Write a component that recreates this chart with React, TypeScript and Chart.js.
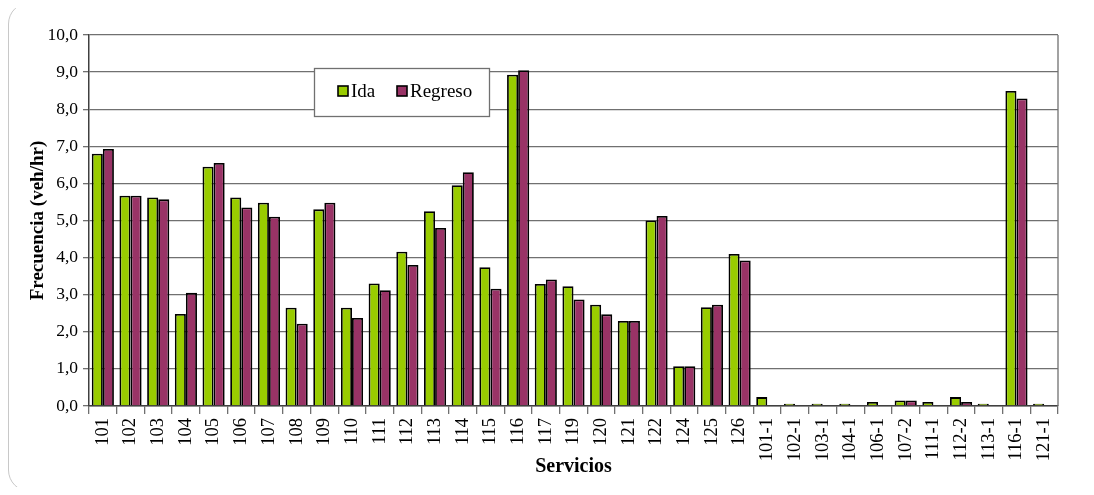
import React, { useEffect, useRef } from "react";
import { Chart, registerables } from "chart.js";

Chart.register(...registerables);

const categories = [
  "101", "102", "103", "104", "105", "106", "107", "108", "109", "110",
  "111", "112", "113", "114", "115", "116", "117", "119", "120", "121",
  "122", "124", "125", "126", "101-1", "102-1", "103-1", "104-1", "106-1",
  "107-2", "111-1", "112-2", "113-1", "116-1", "121-1",
];

const idaValues = [
  6.8, 5.67, 5.62, 2.48, 6.45, 5.62, 5.48, 2.65, 5.3, 2.65,
  3.3, 4.16, 5.25, 5.95, 3.74, 8.93, 3.29, 3.23, 2.73, 2.29,
  5.0, 1.07, 2.66, 4.1, 0.24, 0.06, 0.06, 0.06, 0.11,
  0.15, 0.11, 0.24, 0.06, 8.49, 0.06,
];

const regresoValues = [
  6.93, 5.67, 5.57, 3.05, 6.55, 5.35, 5.1, 2.22, 5.48, 2.37,
  3.12, 3.8, 4.8, 6.3, 3.16, 9.05, 3.41, 2.87, 2.47, 2.29,
  5.12, 1.07, 2.73, 3.92, 0, 0, 0, 0, 0,
  0.15, 0, 0.11, 0, 8.29, 0,
];

const yTicks = [0, 1, 2, 3, 4, 5, 6, 7, 8, 9, 10];

const SERIF = "'Liberation Serif', 'Times New Roman', serif";

const legendPlugin = {
  id: "boxLegend",
  afterDraw(chart: any) {
    const ctx = chart.ctx;
    const x = 314.5, y = 68.5, w = 175, h = 48;
    ctx.save();
    ctx.fillStyle = "#ffffff";
    ctx.fillRect(x, y, w, h);
    ctx.strokeStyle = "#707070";
    ctx.lineWidth = 1.3;
    ctx.strokeRect(x, y, w, h);
    ctx.font = `19px ${SERIF}`;
    ctx.textBaseline = "middle";
    const items = [
      { label: chart.data.datasets[0].label, color: chart.data.datasets[0].backgroundColor, sx: 338 },
      { label: chart.data.datasets[1].label, color: chart.data.datasets[1].backgroundColor, sx: 397 },
    ];
    items.forEach((it) => {
      ctx.fillStyle = it.color;
      ctx.fillRect(it.sx, 86, 10, 10);
      ctx.strokeStyle = "#000";
      ctx.lineWidth = 1.6;
      ctx.strokeRect(it.sx, 86, 10, 10);
      ctx.fillStyle = "#000";
      ctx.textAlign = "left";
      ctx.fillText(it.label, it.sx + 13, 92);
    });
    ctx.restore();
  },
};

const borderPlugin = {
  id: "plotBorder",
  afterDatasetsDraw(chart: any) {
    const { ctx, chartArea } = chart;
    ctx.save();
    ctx.strokeStyle = "#707070";
    ctx.lineWidth = 1.3;
    ctx.beginPath();
    ctx.moveTo(chartArea.right, chartArea.top);
    ctx.lineTo(chartArea.right, chartArea.bottom);
    ctx.stroke();
    ctx.restore();
  },
};

export default function App() {
  const ref = useRef<HTMLCanvasElement | null>(null);

  useEffect(() => {
    if (!ref.current) return;
    const chart = new Chart(ref.current, {
      type: "bar",
      data: {
        labels: categories,
        datasets: [
          {
            label: "Ida",
            data: idaValues,
            backgroundColor: "#99CC00",
            borderColor: "#000000",
            borderWidth: 1.8,
            barPercentage: 1,
            categoryPercentage: 0.8,
          },
          {
            label: "Regreso",
            data: regresoValues,
            backgroundColor: "#993366",
            borderColor: "#000000",
            borderWidth: 1.8,
            barPercentage: 1,
            categoryPercentage: 0.8,
          },
        ],
      },
      options: {
        animation: false,
        responsive: false,
        maintainAspectRatio: false,
        layout: { padding: { left: 23, right: 36, top: 35, bottom: 13 } },
        plugins: {
          legend: { display: false },
          tooltip: { enabled: false },
        },
        scales: {
          x: {
            grid: {
              display: true,
              drawOnChartArea: false,
              drawTicks: true,
              tickLength: 8,
              color: "#707070",
              lineWidth: 1.3,
              offset: true,
            },
            border: { display: true, color: "#404040", width: 1.5 },
            ticks: {
              autoSkip: false,
              minRotation: 90,
              maxRotation: 90,
              color: "#000",
              padding: 4,
              font: { family: SERIF, size: 18.5 },
            },
            title: {
              display: true,
              text: "Servicios",
              color: "#000",
              font: { family: SERIF, size: 20, weight: "bold" },
              padding: { top: 2, bottom: 3 },
            },
            afterFit(scale: any) {
              scale.height = 76;
            },
          },
          y: {
            min: 0,
            max: 10,
            afterBuildTicks(scale: any) {
              scale.ticks = yTicks.map((v) => ({ value: v }));
            },
            grid: {
              color: "#707070",
              lineWidth: 1.3,
              tickLength: 6,
              drawTicks: true,
            },
            border: { display: true, color: "#404040", width: 1.5 },
            ticks: {
              color: "#000",
              padding: 5,
              font: { family: SERIF, size: 17.5 },
              callback: (v: any) => Number(v).toFixed(1).replace(".", ","),
            },
            title: {
              display: true,
              text: "Frecuencia (veh/hr)",
              color: "#000",
              font: { family: SERIF, size: 19, weight: "bold" },
              padding: { top: 4, bottom: 4 },
            },
            afterFit(scale: any) {
              scale.width = 66;
            },
          },
        },
      },
      plugins: [borderPlugin, legendPlugin],
    });
    return () => chart.destroy();
  }, []);

  return (
    <div style={{ position: "relative", width: 1094, height: 495, margin: -8, overflow: "hidden", background: "#fff" }}>
      <div
        style={{
          position: "absolute",
          left: 8,
          top: 2,
          width: 1092,
          height: 490,
          border: "1.5px solid #c8c8c8",
          borderRadius: 22,
          boxSizing: "border-box",
        }}
      />
      <canvas ref={ref} width={1094} height={495} style={{ position: "absolute", left: 0, top: 0 }} />
    </div>
  );
}
